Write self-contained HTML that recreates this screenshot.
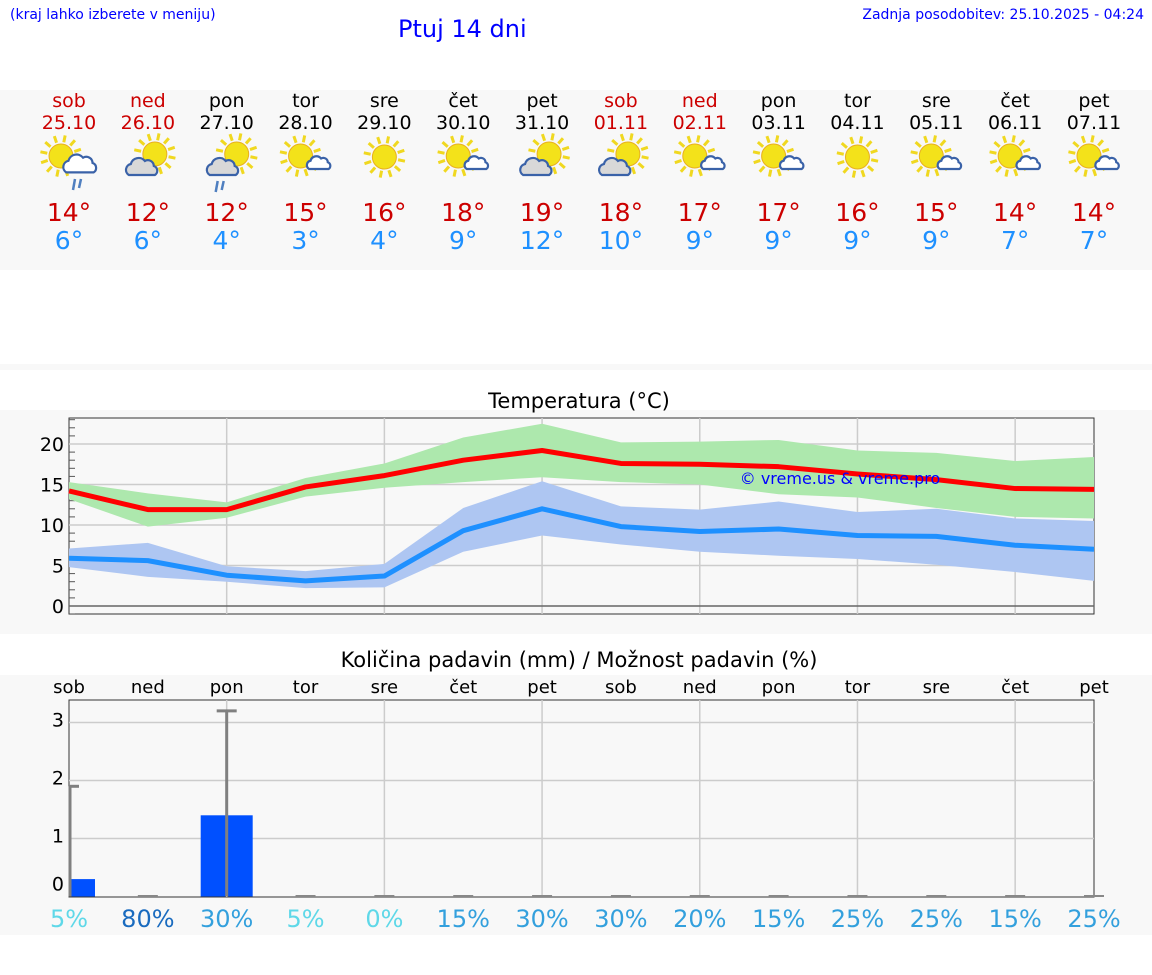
<!DOCTYPE html>
<html><head><meta charset="utf-8"><style>
body{margin:0;width:1152px;height:975px;background:#fff;font-family:"DejaVu Sans","Liberation Sans",sans-serif;position:relative;overflow:hidden}
.abs{position:absolute}
</style></head><body>
<div class="abs" style="left:10px;top:7px;font-size:14px;color:#00f">(kraj lahko izberete v meniju)</div>
<div class="abs" style="left:398px;top:15px;font-size:24px;color:#00f">Ptuj 14 dni</div>
<div class="abs" style="right:8px;top:7px;font-size:14px;color:#00f">Zadnja posodobitev: 25.10.2025 - 04:24</div>
<div class="abs" style="left:0;top:90px;width:1152px;height:180px;background:#f8f8f8"></div>
<div class="abs" style="left:0;top:364px;width:1152px;height:6px;background:#f8f8f8"></div>
<div class="abs" style="left:0;top:410px;width:1152px;height:224px;background:#f8f8f8"></div>
<div class="abs" style="left:0;top:675px;width:1152px;height:260px;background:#f8f8f8"></div>
<svg id="chart" class="abs" style="left:0;top:0" width="1152" height="975"></svg>
<script>
const dayNames=["sob","ned","pon","tor","sre","čet","pet","sob","ned","pon","tor","sre","čet","pet"];
const dates=["25.10","26.10","27.10","28.10","29.10","30.10","31.10","01.11","02.11","03.11","04.11","05.11","06.11","07.11"];
const holiday=[1,1,0,0,0,0,0,1,1,0,0,0,0,0];
const icons=["scr","cs","csr","sc","s","sc","cs","cs","sc","sc","s","sc","sc","sc"];
const dayMax=[14,12,12,15,16,18,19,18,17,17,16,15,14,14];
const dayMin=[6,6,4,3,4,9,12,10,9,9,9,9,7,7];
const tMax=[14.2,11.9,11.9,14.7,16.1,18.0,19.2,17.6,17.5,17.2,16.3,15.6,14.5,14.4];
const tMaxHi=[15.3,13.9,12.8,15.8,17.6,20.8,22.5,20.2,20.3,20.5,19.2,18.9,17.9,18.4];
const tMaxLo=[13.2,9.8,10.9,13.5,14.6,15.3,15.9,15.3,15.0,13.8,13.4,12.1,11.0,10.8];
const tMin=[5.9,5.6,3.8,3.1,3.7,9.3,12.0,9.8,9.2,9.5,8.7,8.6,7.5,7.0];
const tMinHi=[7.1,7.8,4.9,4.3,5.2,12.1,15.4,12.3,11.9,12.9,11.6,12.0,10.8,10.5];
const tMinLo=[4.8,3.6,3.0,2.2,2.3,6.7,8.7,7.6,6.7,6.2,5.8,5.1,4.2,3.1];
const precip=[0.3,0,1.4,0,0,0,0,0,0,0,0,0,0,0];
const precipMax=[1.9,0,3.2,0,0,0,0,0,0,0,0,0,0,0];
const chance=[5,80,30,5,0,15,30,30,20,15,25,25,15,25];
const tTicks=[0,5,10,15,20];
const pTicks=[0,1,2,3];

const NS="http://www.w3.org/2000/svg";
const svg=document.getElementById('chart');
const X0=69,X1=1094,DX=(X1-X0)/13;
const xd=i=>X0+DX*i;
const yT=v=>606-8.1*v;
const yP=v=>896.5-58*v;
function el(tag,attrs,parent){const e=document.createElementNS(NS,tag);for(const k in attrs)e.setAttribute(k,attrs[k]);(parent||svg).appendChild(e);return e;}
function txt(x,y,s,size,fill,anchor){const t=el('text',{x:x,y:y,'font-size':size,fill:fill,'text-anchor':anchor||'middle','font-family':'DejaVu Sans, Liberation Sans, sans-serif'});t.textContent=s;return t;}

function sun(g,cx,cy,r){for(let a=0;a<12;a++){const an=a*Math.PI/6+0.2;el('line',{x1:cx+Math.cos(an)*(r+2),y1:cy+Math.sin(an)*(r+2),x2:cx+Math.cos(an)*(r+9),y2:cy+Math.sin(an)*(r+9),stroke:'#f0d820','stroke-width':3},g);}el('circle',{cx:cx,cy:cy,r:r,fill:'#f3e21a',stroke:'#e8b020','stroke-width':1},g);}
function cloud(g,cx,cy,s,fill){el('path',{d:`M${cx-14*s},${cy+8*s} a${6*s},${6*s} 0 0 1 ${2*s},-${11*s} a${8*s},${8*s} 0 0 1 ${14*s},-${3*s} a${6*s},${6*s} 0 0 1 ${9*s},${5*s} a${5*s},${5*s} 0 0 1 ${1*s},${9*s} z`,fill:fill,stroke:'#3a62a8','stroke-width':2.2},g);}
function rain(g,cx,cy){el('line',{x1:cx,y1:cy,x2:cx-2,y2:cy+11,stroke:'#4f7fc0','stroke-width':2.5},g);el('line',{x1:cx+6,y1:cy,x2:cx+4,y2:cy+9,stroke:'#4f7fc0','stroke-width':2.5},g);}
for(let i=0;i<14;i++){
  const cx=xd(i), col=holiday[i]?'#c00':'#000';
  const d=txt(cx,107,dayNames[i],19,col);
  
  const dt=txt(cx,129,dates[i],19,col);
  
  const g=el('g',{});
  
  const k=icons[i];
  if(k==='s'){sun(g,cx,157,12);}
  else if(k==='sc'){sun(g,cx-5,156,12);cloud(g,cx+14,163,0.75,'#fff');}
  else if(k==='scr'){sun(g,cx-8,156,12);cloud(g,cx+12,164,1.05,'#fff');rain(g,cx+6,179);}
  else if(k==='cs'){sun(g,cx+7,154,12);cloud(g,cx-5,167,1.0,'#d8d8d8');}
  else if(k==='csr'){sun(g,cx+10,154,12);cloud(g,cx-3,167,1.0,'#d8d8d8');rain(g,cx-9,181);}
  const mx=txt(cx,221,dayMax[i]+'°',25,'#c00');
  
  const mn=txt(cx,249,dayMin[i]+'°',25,'#1e90ff');
  
}

const tt=txt(579,408,'Temperatura (°C)',21,'#000');

const tp=el('rect',{x:X0,y:418,width:X1-X0,height:196,fill:'#f8f8f8',stroke:'#333','stroke-width':1});

for(let i=2;i<13;i+=2){el('line',{x1:xd(i),y1:418,x2:xd(i),y2:614,stroke:'#ccc','stroke-width':1.5});}
for(let v=-1;v<=23;v++){el('line',{x1:X0,y1:yT(v),x2:X0+(v%5===0?0:6),y2:yT(v),stroke:'#555','stroke-width':1});}
tTicks.forEach(v=>{el('line',{x1:X0,y1:yT(v),x2:X1,y2:yT(v),stroke:v===0?'#666':'#ccc','stroke-width':1.5});
  const l=txt(64,yT(v)+7,String(v),19,'#000','end');});
function band(hi,lo,fill,name){let d='';hi.forEach((v,i)=>d+=(i?'L':'M')+xd(i)+','+yT(v));for(let i=lo.length-1;i>=0;i--)d+='L'+xd(i)+','+yT(lo[i]);const p=el('path',{d:d+'Z',fill:fill});}
function line(arr,col,name){const p=el('polyline',{points:arr.map((v,i)=>xd(i)+','+yT(v)).join(' '),fill:'none',stroke:col,'stroke-width':5,'stroke-linejoin':'round'});}
band(tMaxHi,tMaxLo,'#ade8ad','max-temp-range');
band(tMinHi,tMinLo,'#aec6f2','min-temp-range');
line(tMax,'#ff0000','max-temp-line');
line(tMin,'#1e90ff','min-temp-line');
const wm=txt(840,484,'© vreme.us & vreme.pro',16,'#00f');


const pt=txt(579,667,'Količina padavin (mm) / Možnost padavin (%)',21,'#000');

const pp=el('rect',{x:X0,y:700,width:X1-X0,height:197,fill:'#f8f8f8',stroke:'#333','stroke-width':1});

for(let i=2;i<13;i+=2){el('line',{x1:xd(i),y1:700,x2:xd(i),y2:897,stroke:'#ccc','stroke-width':1.5});}
pTicks.forEach(v=>{if(v>0)el('line',{x1:X0,y1:yP(v),x2:X1,y2:yP(v),stroke:'#ccc','stroke-width':1.5});
  const l=txt(64,yP(v)-3+(v===0?-3:7),String(v),19,'#000','end');});
const cc=(c)=>c>=80?'#1a6bbf':c>=15?'#33a0dd':'#5fd8e8';
for(let i=0;i<14;i++){
  const cx=xd(i);
  const dn=txt(cx,693,dayNames[i],18,'#000');
  if(precip[i]>0){const x0=Math.max(X0,cx-26),x1=Math.min(X1,cx+26);
    const b=el('rect',{x:x0,y:yP(precip[i]),width:x1-x0,height:yP(0)-yP(precip[i]),fill:'#0050ff'});
    }
  if(precipMax[i]>0){const e=el('g',{});
    el('line',{x1:cx+(i===0?1:0),y1:yP(0),x2:cx+(i===0?1:0),y2:yP(precipMax[i]),stroke:'#808080','stroke-width':3},e);
    el('line',{x1:Math.max(X0,cx-10),y1:yP(precipMax[i]),x2:cx+10,y2:yP(precipMax[i]),stroke:'#808080','stroke-width':3},e);}
  else el('line',{x1:cx-10,y1:896,x2:cx+10,y2:896,stroke:'#888','stroke-width':2});
  const c=txt(cx,927,chance[i]+'%',24,cc(chance[i]));
}
</script>
</body></html>
